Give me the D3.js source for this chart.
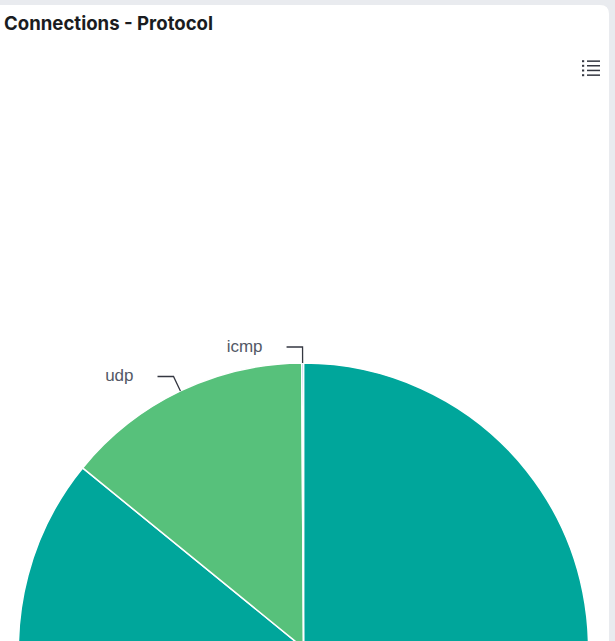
<!DOCTYPE html>
<html>
<head>
<meta charset="utf-8">
<script src="https://cdn.jsdelivr.net/npm/d3@7"></script>
<style>
  body { margin: 0; background: #e9ebef; overflow: hidden; }
  #chart { width: 615px; height: 641px; }
</style>
</head>
<body>
<div id="chart"></div>
<script>
// data
const protocols = ["tcp", "udp", "icmp"];
const counts = [4290, 700, 5];
const colors = ["#00a69b", "#57c17b", "#6f87d8"];

const width = 615;
const height = 641;

const svg = d3.select("#chart").append("svg")
    .attr("width", width)
    .attr("height", height);

// panel card
svg.append("path")
    .attr("d", `M0,5 H600 Q609,5 609,14 V${height} H0 Z`)
    .attr("fill", "#fff");

// title
svg.append("text")
    .attr("x", 4)
    .attr("y", 30)
    .style("font-family", "Inter, 'Open Sans', sans-serif")
    .style("font-size", "18.6px")
    .style("font-weight", "700")
    .attr("fill", "#1a1c21")
    .text("Connections - Protocol");

// legend toggle icon
const icon = svg.append("g").attr("transform", "translate(582, 61)");
[0, 4.6, 9.3, 14].forEach(dy => {
    icon.append("rect").attr("x", 0).attr("y", dy - 0.8).attr("width", 2.2).attr("height", 2)
        .attr("fill", "#343741");
    icon.append("rect").attr("x", 5).attr("y", dy - 0.6).attr("width", 13).attr("height", 1.5)
        .attr("fill", "#343741");
});

// pie
const cx = 303.5, cy = 648, radius = 285;
const data = protocols.map((p, i) => ({ name: p, value: counts[i], color: colors[i] }));

const pie = d3.pie().value(d => d.value).sort((a, b) => b.value - a.value);
const arcs = pie(data);

const arc = d3.arc().innerRadius(0).outerRadius(radius);

const g = svg.append("g").attr("transform", `translate(${cx},${cy})`);

g.selectAll("path.slice")
    .data(arcs)
    .enter().append("path")
    .attr("class", "slice")
    .attr("d", arc)
    .attr("fill", d => d.data.color)
    .attr("stroke", "#fff")
    .attr("stroke-width", 1.5);

// labels with leader lines (only slices whose labels fit in view)
const labelled = arcs.filter(d => d.data.name !== "tcp");
const pointAt = (angle, r) => [r * Math.sin(angle), -r * Math.cos(angle)];

labelled.forEach(d => {
    const mid = (d.startAngle + d.endAngle) / 2;
    const p0 = pointAt(mid, radius);
    const p1 = pointAt(mid, radius + 16);
    const p2 = [p1[0] - 16, p1[1]];
    g.append("polyline")
        .attr("points", [p0, p1, p2].map(p => p.join(",")).join(" "))
        .attr("fill", "none")
        .attr("stroke", "#343741")
        .attr("stroke-width", 1.3);
    g.append("text")
        .attr("x", p2[0] - 24)
        .attr("y", p2[1] + 4.5)
        .attr("text-anchor", "end")
        .style("font-family", "'Liberation Sans', Arial, sans-serif")
        .style("font-size", "17px")
        .attr("fill", "#535966")
        .text(d.data.name);
});
</script>
</body>
</html>
